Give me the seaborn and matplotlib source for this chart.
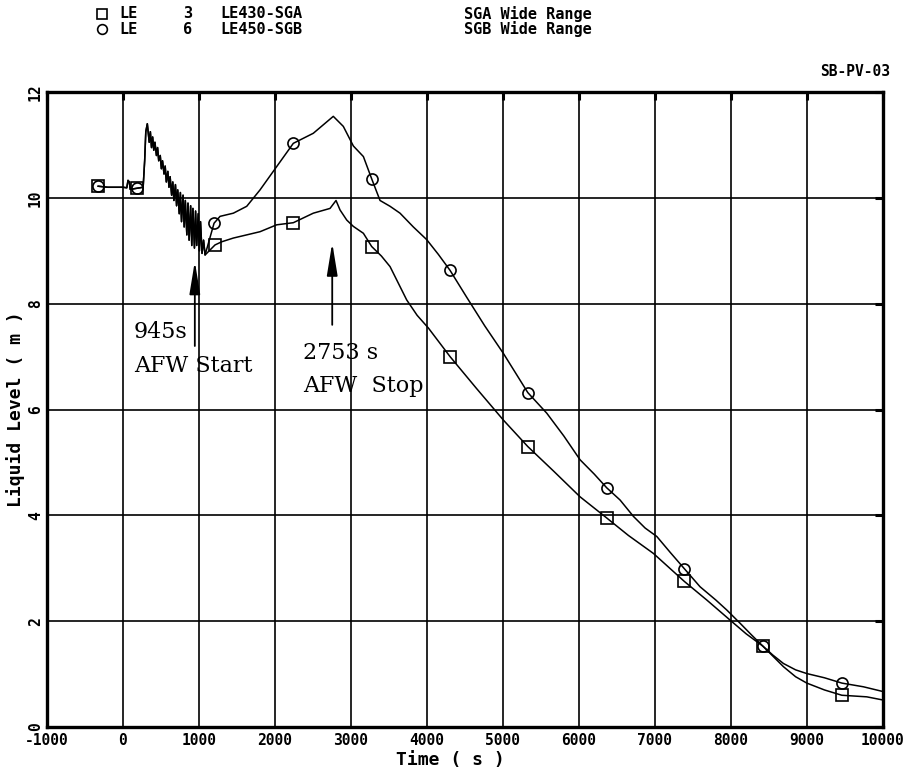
import numpy as np
import pandas as pd
import matplotlib
matplotlib.use("Agg")
import matplotlib.pyplot as plt
from matplotlib.lines import Line2D
import seaborn as sns

# ---- data -------------------------------------------------------------
# shared start of both steam generator levels (s, m)
early_time = [-330, -200, 0, 50, 66, 83, 95, 180, 265, 285, 300, 320]
early_level = [10.22, 10.20, 10.20, 10.19, 10.33, 10.30, 10.16, 10.18, 10.20, 10.70, 11.25, 11.40]

# oscillating drop before auxiliary feedwater start (both levels overlap)
osc_time = [345, 360, 375, 390, 405, 420, 440, 455, 470, 490, 505, 520, 540, 555,
            570, 590, 605, 620, 640, 655, 670, 690, 705, 720, 740, 755, 770, 790,
            805, 820, 840, 855, 870, 890, 905, 920, 940, 955, 970, 990, 1005, 1020,
            1040, 1060, 1080]
osc_level = [11.05, 11.25, 10.95, 11.15, 10.90, 11.05, 10.80, 10.95, 10.70, 10.80,
             10.55, 10.70, 10.45, 10.60, 10.30, 10.50, 10.20, 10.40, 10.05, 10.30,
             9.95, 10.25, 9.85, 10.15, 9.70, 10.10, 9.55, 10.05, 9.45, 9.95, 9.30,
             9.90, 9.20, 9.85, 9.10, 9.80, 9.05, 9.75, 9.10, 9.70, 9.00, 9.55, 8.95,
             9.20, 8.92]

# LE430-SGA after the split
sga_time = [1211, 1300, 1452, 1628, 1803, 2022, 2241, 2504, 2724, 2803, 2856, 2944,
            3031, 3163, 3272, 3400, 3514, 3733, 3870, 4018, 4303, 4650, 5005, 5326,
            5670, 6014, 6365, 6650, 6979, 7387, 7681, 7988, 8200, 8418, 8690, 8850,
            8997, 9230, 9458, 9787, 10000]
sga_level = [9.11, 9.17, 9.24, 9.30, 9.36, 9.49, 9.53, 9.71, 9.80, 9.95, 9.77, 9.58,
             9.46, 9.33, 9.08, 8.90, 8.70, 8.07, 7.78, 7.54, 7.00, 6.40, 5.80, 5.30,
             4.83, 4.35, 3.95, 3.62, 3.28, 2.75, 2.40, 2.02, 1.76, 1.53, 1.14, 0.95,
             0.83, 0.70, 0.60, 0.57, 0.51]

# LE450-SGB after the split
sgb_time = [1198, 1277, 1452, 1628, 1803, 2022, 2241, 2504, 2767, 2899, 3031, 3163,
            3272, 3382, 3514, 3645, 3820, 3996, 4150, 4303, 4523, 4760, 5005, 5170,
            5326, 5576, 5800, 6014, 6200, 6365, 6540, 6716, 6870, 7024, 7200, 7387,
            7593, 7800, 7945, 8120, 8270, 8418, 8550, 8690, 8850, 8997, 9230, 9458,
            9742, 10000]
sgb_level = [9.52, 9.65, 9.71, 9.84, 10.15, 10.59, 11.03, 11.22, 11.54, 11.35, 10.98,
             10.78, 10.36, 9.95, 9.84, 9.71, 9.45, 9.21, 8.93, 8.63, 8.12, 7.58, 7.06,
             6.68, 6.32, 5.93, 5.50, 5.05, 4.78, 4.52, 4.29, 3.98, 3.76, 3.60, 3.30,
             2.99, 2.65, 2.40, 2.21, 1.96, 1.74, 1.53, 1.36, 1.20, 1.08, 1.01, 0.93,
             0.83, 0.76, 0.67]

# times at which the plotter symbols sit on each curve
sga_symbol_time = [-330, 180, 1211, 2241, 3272, 4303, 5326, 6365, 7387, 8418, 9458]
sgb_symbol_time = [-330, 180, 1198, 2241, 3272, 4303, 5326, 6365, 7387, 8418, 9458]

x_ticks = list(range(-1000, 10001, 1000))
y_ticks = list(range(0, 13, 2))

# ---- figure -----------------------------------------------------------
sns.set_theme(style="white")
plt.rcParams["font.family"] = ["DejaVu Sans Mono", "DejaVu Sans"]

W, H = 914, 773
fig = plt.figure(figsize=(W / 100, H / 100), dpi=100)
ax = fig.add_axes([47 / W, 1 - 727 / H, 836 / W, 635 / H])


def series_frame(t_post, l_post, name):
    t = np.concatenate([early_time, osc_time, t_post])
    l = np.concatenate([early_level, osc_level, l_post])
    return pd.DataFrame({"Time": t, "Level": l, "Signal": name})


sga = series_frame(sga_time, sga_level, "LE430-SGA")
sgb = series_frame(sgb_time, sgb_level, "LE450-SGB")

for df, sym_t, mk in [(sga, sga_symbol_time, "s"), (sgb, sgb_symbol_time, "o")]:
    idx = list(np.flatnonzero(np.isin(df["Time"].to_numpy(), sym_t)))
    sns.lineplot(data=df, x="Time", y="Level", ax=ax, color="black", lw=1.1,
                 estimator=None, sort=False, marker=mk, markevery=idx,
                 markersize=8, markerfacecolor="none", markeredgecolor="black",
                 markeredgewidth=1.2, legend=False, zorder=3)

ax.set_xlim(-1000, 10000)
ax.set_ylim(0, 12)
ax.set_xticks(x_ticks)
ax.set_xticklabels([str(v) for v in x_ticks])
ax.set_yticks(y_ticks)
ax.set_yticklabels([str(v) for v in y_ticks])

ax.grid(True, color="black", lw=1.2)
ax.set_axisbelow(True)
for sp in ax.spines.values():
    sp.set_visible(True)
    sp.set_color("black")
    sp.set_linewidth(2.4)

ax.tick_params(axis="both", direction="in", length=6, width=2.2, color="black",
               top=True, right=True, labelsize=10.5, labelcolor="black")
ax.tick_params(axis="x", pad=4)
ax.tick_params(axis="y", pad=3, labelrotation=90)
for lab in ax.get_xticklabels() + ax.get_yticklabels():
    lab.set_fontweight("bold")
for lab in ax.get_yticklabels():
    lab.set_verticalalignment("center")

ax.set_xlabel("Time ( s )", fontsize=13, fontweight="bold", color="black")
ax.set_ylabel("Liquid Level ( m )", fontsize=13, fontweight="bold", color="black")
ax.xaxis.set_label_coords((450 - 47) / 836, -(751 - 727) / 635)
ax.yaxis.set_label_coords((25 - 47) / 836, 0.5)

# auxiliary feedwater events
arrow = dict(arrowstyle="-|>,head_length=1.1,head_width=0.18", color="black",
             lw=1.3, mutation_scale=18, shrinkA=0, shrinkB=0)
ax.annotate("", xy=(945, 8.80), xytext=(945, 7.20), arrowprops=arrow, zorder=4)
ax.annotate("", xy=(2753, 9.15), xytext=(2753, 7.60), arrowprops=arrow, zorder=4)

note = dict(fontsize=16, family="DejaVu Serif", color="black", va="baseline",
            ha="left", zorder=5)
ax.text(140, 7.35, "945s", **note)
ax.text(140, 6.71, "AFW Start", **note)
ax.text(2370, 6.95, "2753 s", **note)
ax.text(2370, 6.33, "AFW  Stop", **note)

# header block
def fx(px):
    return px / W


def fy(py):
    return 1 - py / H


hdr = dict(fontsize=11, color="black", va="center", ha="left", fontweight="bold")
for row_y, mk, num, tag, desc in [(14, "s", "3", "LE430-SGA", "SGA Wide Range"),
                                  (29, "o", "6", "LE450-SGB", "SGB Wide Range")]:
    fig.add_artist(Line2D([fx(102)], [fy(row_y)], marker=mk, markersize=7,
                          markerfacecolor="none", markeredgecolor="black",
                          markeredgewidth=1.2, transform=fig.transFigure))
    fig.text(fx(119), fy(row_y), "LE", **hdr)
    fig.text(fx(183), fy(row_y), num, **hdr)
    fig.text(fx(220), fy(row_y), tag, **hdr)
    fig.text(fx(464), fy(row_y), desc, **hdr)

fig.text(fx(820), fy(72), "SB-PV-03", fontsize=10.5, fontweight="bold",
         color="black", va="center", ha="left")

fig.savefig("out.png", dpi=100, facecolor="white")
